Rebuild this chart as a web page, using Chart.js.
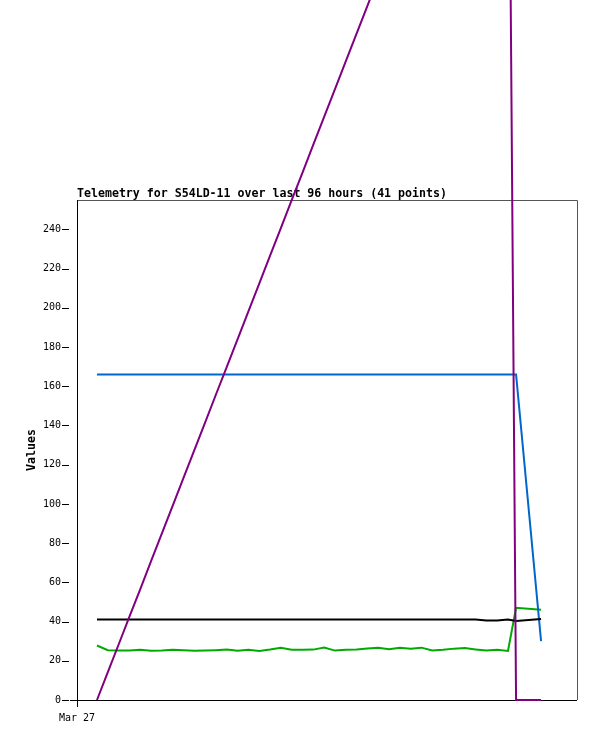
<!DOCTYPE html>
<html>
<head>
<meta charset="utf-8">
<script src="https://cdn.jsdelivr.net/npm/chart.js@4"></script>
<style>
html,body{margin:0;padding:0;background:#fff;}
#wrap{width:597px;height:741px;position:relative;}
</style>
</head>
<body>
<div id="wrap"><canvas id="c" width="597" height="741"></canvas></div>
<script>
const titleText = 'Telemetry for S54LD-11 over last 96 hours (41 points)';
const yAxisTitle = 'Values';
// hours since axis start
const hours = [3.84,5.92,7.99,10.07,12.15,14.22,16.30,18.38,20.45,22.53,24.61,26.68,28.76,30.84,32.91,34.99,37.07,39.14,41.22,43.30,45.37,47.45,49.53,51.60,53.68,55.76,57.83,59.91,61.99,64.06,66.14,68.22,70.29,72.37,74.45,76.52,78.60,80.68,82.75,84.3,89.1];
const purpleSeries = [0,14.2,28.3,42.5,56.6,70.8,85.0,99.1,113.3,127.4,141.6,155.8,169.9,184.1,198.2,212.4,226.6,240.7,254.9,269.0,283.2,297.4,311.5,325.7,339.8,354.0,368.2,382.3,396.5,410.6,424.8,439.0,453.1,467.3,481.4,495.6,509.8,523.9,538.1,0,0];
const blueSeries = [166,166,166,166,166,166,166,166,166,166,166,166,166,166,166,166,166,166,166,166,166,166,166,166,166,166,166,166,166,166,166,166,166,166,166,166,166,166,166,166,30];
const blackSeries = [41,41,41,41,41,41,41,41,41,41,41,41,41,41,41,41,41,41,41,41,41,41,41,41,41,41,41,41,41,41,41,41,41,41,41,41,40.5,40.6,41,40.3,41.3];
const greenSeries = [27.8,25.4,25.3,25.2,25.6,25.1,25.2,25.6,25.4,25.1,25.2,25.4,25.7,25.1,25.6,25.0,25.7,26.7,25.6,25.6,25.7,26.8,25.2,25.6,25.7,26.3,26.6,25.9,26.6,26.2,26.7,25.2,25.6,26.2,26.5,25.8,25.2,25.6,25.0,47,46];
const yTickValues = [0,20,40,60,80,100,120,140,160,180,200,220,240];
const xTickValues = [0];
const xTickLabels = ['Mar 27'];

function pts(arr){ return arr.map((v,i)=>({x:hours[i], y:v})); }

const mono = '"DejaVu Sans Mono", "Liberation Mono", monospace';

const decor = {
  id:'decor',
  beforeDatasetsDraw(chart){
    const ctx = chart.ctx, a = chart.chartArea;
    ctx.save();
    ctx.strokeStyle = '#555555';
    ctx.lineWidth = 1;
    ctx.beginPath();
    ctx.moveTo(a.left, a.top + 0.5); ctx.lineTo(a.right + 0.5, a.top + 0.5);
    ctx.lineTo(a.right + 0.5, a.bottom);
    ctx.stroke();
    // axes
    ctx.strokeStyle = '#000';
    ctx.beginPath();
    ctx.moveTo(a.left + 0.5, a.top); ctx.lineTo(a.left + 0.5, a.bottom + 0.5);
    ctx.moveTo(a.left - 7, a.bottom + 0.5); ctx.lineTo(a.right, a.bottom + 0.5);
    ctx.stroke();
    // y tick marks
    const ys = chart.scales.y;
    ctx.beginPath();
    yTickValues.forEach(v=>{
      const py = Math.round(ys.getPixelForValue(v)) + 0.5;
      ctx.moveTo(a.left - 15, py); ctx.lineTo(a.left - 8, py);
    });
    // x tick marks
    const xs = chart.scales.x;
    xTickValues.forEach(v=>{
      const px = Math.round(xs.getPixelForValue(v)) + 0.5;
      ctx.moveTo(px, a.bottom - 3); ctx.lineTo(px, a.bottom + 7);
    });
    ctx.stroke();
    // title
    ctx.fillStyle = '#000';
    ctx.font = 'bold 11.6px ' + mono;
    ctx.textAlign = 'left';
    ctx.textBaseline = 'alphabetic';
    ctx.fillText(titleText, a.left, a.top - 3);
    ctx.restore();
  }
};

new Chart(document.getElementById('c'), {
  type:'line',
  data:{
    datasets:[
      {data:pts(purpleSeries), borderColor:'#800080'},
      {data:pts(blackSeries), borderColor:'#000000'},
      {data:pts(blueSeries), borderColor:'#0066cc'},
      {data:pts(greenSeries), borderColor:'#00aa00'}
    ]
  },
  options:{
    responsive:false,
    animation:false,
    events:[],
    layout:{padding:{left:0, top:200, right:20, bottom:0}},
    elements:{
      line:{borderWidth:2, tension:0, fill:false},
      point:{radius:0}
    },
    datasets:{line:{clip:false}},
    plugins:{legend:{display:false}, title:{display:false}, tooltip:{enabled:false}},
    scales:{
      x:{
        type:'linear', min:0, max:96,
        grid:{display:false, drawTicks:false},
        border:{display:false},
        afterBuildTicks(axis){ axis.ticks = xTickValues.map(v=>({value:v})); },
        afterFit(axis){ axis.height = 41; },
        ticks:{
          autoSkip:false, maxRotation:0, padding:12, color:'#000',
          font:{family:mono, size:10},
          callback(v){ const i = xTickValues.indexOf(v); return i>=0 ? xTickLabels[i] : ''; }
        }
      },
      y:{
        type:'linear', min:0, max:255,
        grid:{display:false, drawTicks:false},
        border:{display:false},
        afterBuildTicks(axis){ axis.ticks = yTickValues.map(v=>({value:v})); },
        afterFit(axis){ axis.width = 77; },
        title:{display:true, text:yAxisTitle, color:'#000', font:{family:mono, size:11.6, weight:'bold'}, padding:{top:25, bottom:0}},
        ticks:{
          autoSkip:false, padding:16, color:'#000',
          font:{family:mono, size:10}
        }
      }
    }
  },
  plugins:[decor]
});
</script>
</body>
</html>
